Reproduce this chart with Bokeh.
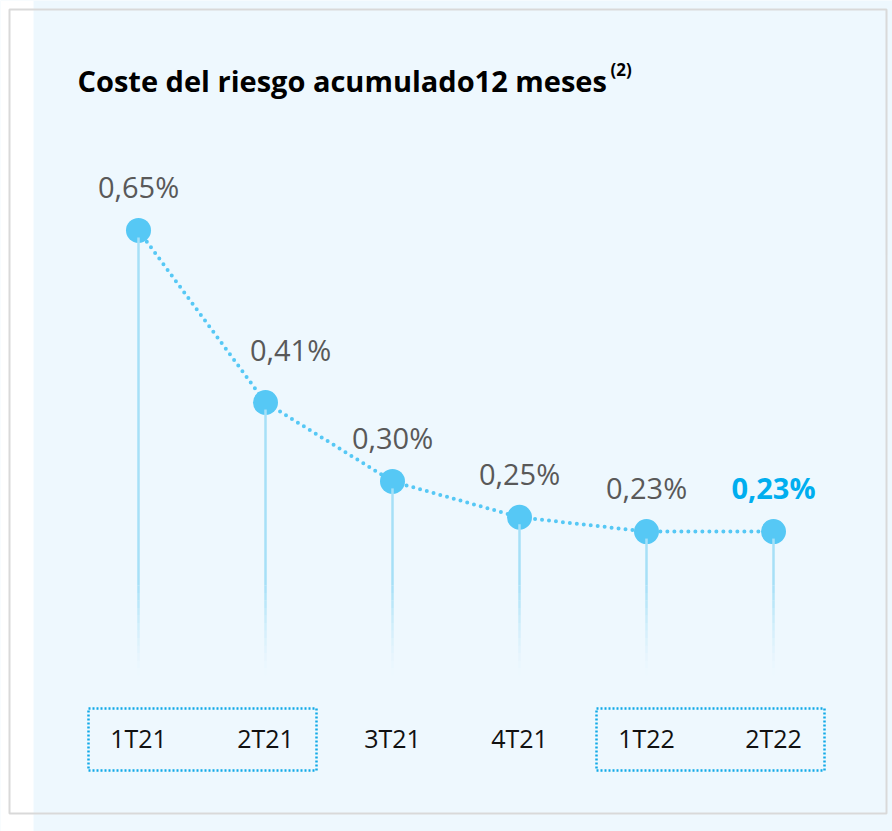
from bokeh.plotting import figure
from bokeh.models import Range1d
from bokeh.core.properties import value
from bokeh.embed import file_html
from bokeh.resources import INLINE

# ---- data ----
categories = ["1T21", "2T21", "3T21", "4T21", "1T22", "2T22"]
values = [0.65, 0.41, 0.30, 0.25, 0.23, 0.23]
title_text = "Coste del riesgo acumulado12 meses"
title_note = "(2)"
highlight_groups = [[0, 1], [4, 5]]

labels = [("%.2f" % v).replace(".", ",") + "%" for v in values]
xs = list(range(len(categories)))

# ---- layout (pixels) ----
W, H = 892, 831
X0_PX, DX_PX = 138, 127
Y0_PX, DY_PX = 696, 717

x_start = -X0_PX / DX_PX
x_end = (W - X0_PX) / DX_PX
y_end = Y0_PX / DY_PX
y_start = (Y0_PX - H) / DY_PX


def fx(px):
    return x_start + px / DX_PX


def fy(py):
    return y_end - py / DY_PX


BG = "#EEF8FE"
DOT = "#56C8F5"
STEM = "#A6E0F7"
BOX = "#12A9E8"
GREY = "#595959"
HL = "#00AEEF"
FONT = value("Open Sans")

p = figure(width=W, height=H, x_range=Range1d(x_start, x_end),
           y_range=Range1d(y_start, y_end), output_backend="svg",
           toolbar_location=None, min_border=0, x_axis_type=None,
           y_axis_type=None, background_fill_color=BG,
           border_fill_color="#FFFFFF", outline_line_color=None)

# left white strip and frame border
p.quad(left=[x_start], right=[fx(33)], bottom=[y_start], top=[y_end],
       fill_color="#FFFFFF", line_color=None)
p.quad(left=[fx(9)], right=[fx(886)], top=[fy(9)], bottom=[fy(813)],
       fill_color=None, line_color="#D9D9D9", line_width=2)

# dotted boxes around category groups
for g in highlight_groups:
    p.quad(left=[g[0] - 50 / DX_PX], right=[g[-1] + 51 / DX_PX],
           top=[fy(708)], bottom=[fy(770)], fill_color=None,
           line_color=BOX, line_width=2.5, line_dash="2 2")

# connecting dotted line
p.line(xs, values, line_color=DOT, line_width=4, line_dash="0 7",
       line_cap="round")

# points
p.scatter(xs, values, size=25, fill_color=DOT, line_color=None)

# stems (solid part + fading tail)
solid_end = fy(585)
p.segment(x0=xs, y0=[v - 7 / DY_PX for v in values], x1=xs,
          y1=[solid_end] * len(xs), line_color=STEM, line_width=2.5)
n_fade = 12
fade_len = (675 - 585) / n_fade
for k in range(n_fade):
    ya = fy(585 + k * fade_len)
    yb = fy(585 + (k + 1) * fade_len)
    p.segment(x0=xs, y0=[ya] * len(xs), x1=xs, y1=[yb] * len(xs),
              line_color=STEM, line_width=2.5,
              line_alpha=(1 - (k + 0.5) / n_fade) ** 1.5)

# value labels (second label nudged away from the line)
colors = [GREY] * (len(values) - 1) + [HL]
styles = ["normal"] * (len(values) - 1) + ["bold"]
lbl_dx = [0, 25, 0, 0, 0, 0]
lbl_dy = [-44, -53, -44, -44, -44, -44]
p.text(xs, values, text=labels, text_color=colors, text_font=FONT,
       text_font_size="29px", text_align="center",
       text_baseline="alphabetic", x_offset=lbl_dx, y_offset=lbl_dy,
       text_font_style=styles)

# category labels
p.text(xs, [fy(737)] * len(xs), text=categories, text_color="#111111",
       text_font=FONT, text_font_size="25px", text_align="center",
       text_baseline="alphabetic")

# title
p.text([fx(77)], [fy(80)], text=[title_text], text_color="#000000",
       text_font=FONT, text_font_size="29px", text_font_style="bold",
       text_align="left", text_baseline="alphabetic")
p.text([fx(610)], [fy(69)], text=[title_note], text_color="#000000",
       text_font=FONT, text_font_size="17px", text_font_style="bold",
       text_align="left", text_baseline="alphabetic")

open("out.html", "w").write(file_html(p, INLINE))
